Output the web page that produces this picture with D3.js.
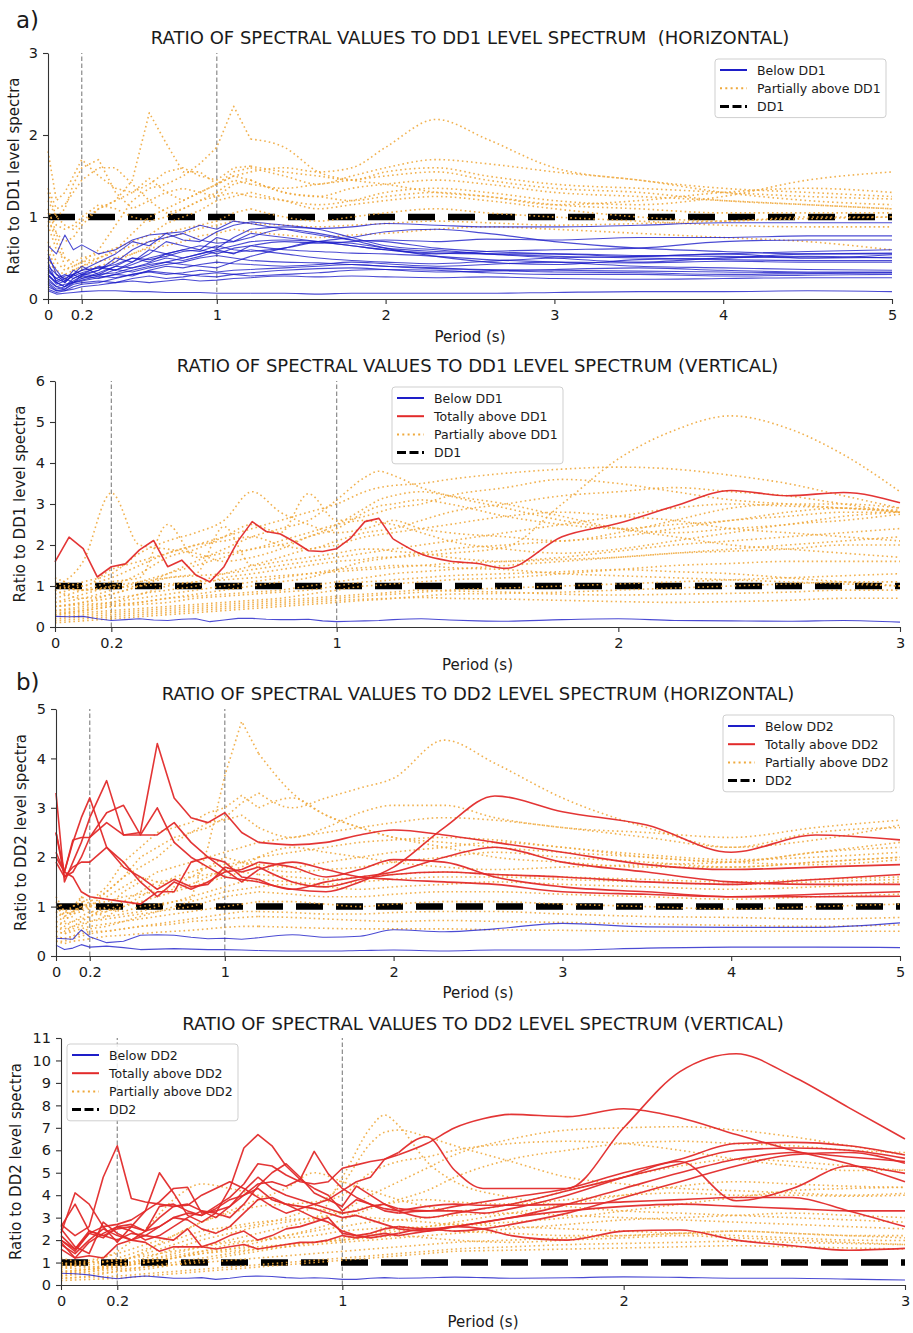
<!DOCTYPE html>
<html>
<head>
<meta charset="utf-8">
<script src="https://cdn.jsdelivr.net/npm/d3@7"></script>
<style>
  body { margin: 0; background: #fff; }
  svg { display: block; }
  text { font-family: "DejaVu Sans", sans-serif; fill: #1a1a1a; }
</style>
</head>
<body>
<svg id="chart" width="913" height="1333"></svg>
<script>
// ---------- period grids (s) ----------
const periodsLong = [0,0.05,0.1,0.15,0.2,0.3,0.4,0.5,0.6,0.7,0.8,0.9,1.0,1.1,1.2,1.4,1.6,1.8,2.0,2.3,2.6,3.0,3.5,4.0,4.5,5.0];
const periodsShort = [0,0.05,0.1,0.15,0.2,0.25,0.3,0.35,0.4,0.45,0.5,0.55,0.6,0.65,0.7,0.75,0.8,0.85,0.9,0.95,1.0,1.05,1.1,1.15,1.2,1.3,1.4,1.5,1.6,1.8,2.0,2.2,2.4,2.6,2.8,3.0];
const periodsShortCoarse = [0,0.1,0.2,0.3,0.4,0.5,0.6,0.7,0.8,0.9,1.0,1.1,1.15,1.2,1.3,1.4,1.6,1.8,2.0,2.2,2.4,2.6,2.8,3.0];

// ---------- tick labels ----------
const xTicksLong = [0,0.2,1,2,3,4,5];
const xTicksShort = [0,0.2,1,2,3];
const yTicksDD1Hor = [0,1,2,3];
const yTicksDD1Ver = [0,1,2,3,4,5,6];
const yTicksDD2Hor = [0,1,2,3,4,5];
const yTicksDD2Ver = [0,1,2,3,4,5,6,7,8,9,10,11];
const markerPeriods = [0.2,1];

// ---------- DD1, horizontal component (periodsLong) ----------
const dd1HorBelow = [
  [0.65,0.55,0.78,0.6,0.66, 0.55,0.6,0.72,0.78,0.8,0.82,0.9,0.85,0.95,0.92, 0.85,0.78,0.72,0.7, 0.62,0.58,0.55, 0.52,0.55,0.5,0.54],
  [0.55,0.3,0.2,0.3,0.35, 0.45,0.55,0.7,0.65,0.8,0.72,0.7,0.82,0.9,0.94, 0.9,0.85,0.75,0.65, 0.6,0.55,0.5, 0.45,0.5,0.52,0.5],
  [0.45,0.2,0.15,0.25,0.3, 0.35,0.5,0.45,0.6,0.55,0.6,0.65,0.62,0.75,0.85, 0.88,0.86,0.88,0.92, 0.9,0.88,0.88, 0.9,0.93,0.93,0.93],
  [0.35,0.25,0.2,0.3,0.4, 0.3,0.4,0.5,0.45,0.55,0.5,0.55,0.6,0.55,0.65, 0.7,0.68,0.7,0.72, 0.7,0.73,0.72, 0.75,0.75,0.77,0.77],
  [0.3,0.18,0.22,0.35,0.3, 0.4,0.35,0.45,0.55,0.7,0.65,0.6,0.75,0.7,0.8, 0.75,0.7,0.65,0.6, 0.55,0.58,0.6, 0.62,0.7,0.72,0.72],
  [0.4,0.3,0.25,0.2,0.28, 0.35,0.45,0.6,0.7,0.75,0.8,0.72,0.68,0.7,0.75, 0.85,0.8,0.72,0.62, 0.52,0.45,0.42, 0.48,0.5,0.55,0.56],
  [0.25,0.15,0.12,0.2,0.25, 0.3,0.32,0.38,0.42,0.45,0.5,0.55,0.6,0.65,0.7, 0.72,0.7,0.65,0.6, 0.56,0.55,0.55, 0.53,0.52,0.5,0.51],
  [0.2,0.12,0.15,0.22,0.28, 0.25,0.3,0.28,0.35,0.4,0.38,0.42,0.45,0.43,0.42, 0.4,0.42,0.45,0.43, 0.4,0.42,0.45, 0.44,0.46,0.45,0.45],
  [0.3,0.2,0.25,0.3,0.35, 0.38,0.42,0.5,0.48,0.52,0.58,0.6,0.55,0.62,0.65, 0.6,0.58,0.56,0.55, 0.52,0.48,0.45, 0.4,0.38,0.36,0.35],
  [0.18,0.1,0.1,0.15,0.18, 0.2,0.25,0.3,0.33,0.3,0.32,0.35,0.33,0.35,0.36, 0.38,0.4,0.42,0.4, 0.38,0.35,0.33, 0.32,0.3,0.31,0.32],
  [0.15,0.1,0.12,0.18,0.2, 0.22,0.2,0.25,0.28,0.25,0.27,0.3,0.32,0.3,0.28, 0.3,0.32,0.35,0.36, 0.35,0.32,0.3, 0.3,0.28,0.29,0.3],
  [0.12,0.08,0.1,0.12,0.15, 0.17,0.2,0.22,0.2,0.22,0.24,0.22,0.23,0.25,0.26, 0.28,0.27,0.28,0.27, 0.26,0.27,0.25, 0.24,0.25,0.26,0.26],
  [0.1,0.06,0.07,0.08,0.09, 0.1,0.1,0.09,0.09,0.08,0.08,0.08,0.07,0.07,0.07, 0.07,0.06,0.07,0.07, 0.07,0.07,0.08, 0.09,0.09,0.1,0.09],
  [0.5,0.35,0.22,0.28,0.32, 0.38,0.35,0.42,0.5,0.55,0.6,0.58,0.65,0.6,0.58, 0.62,0.7,0.75,0.82, 0.85,0.8,0.7, 0.62,0.58,0.55,0.55],
  [0.22,0.15,0.18,0.2,0.23, 0.28,0.26,0.3,0.34,0.32,0.3,0.28,0.27,0.3,0.32, 0.35,0.37,0.38,0.36, 0.33,0.34,0.36, 0.38,0.35,0.33,0.33],
  [0.38,0.22,0.28,0.3,0.25, 0.32,0.4,0.38,0.44,0.5,0.47,0.52,0.58,0.56,0.6, 0.55,0.5,0.47,0.45, 0.43,0.46,0.5, 0.52,0.55,0.58,0.6],
  [0.28,0.2,0.15,0.2,0.22, 0.26,0.3,0.35,0.4,0.45,0.42,0.4,0.38,0.45,0.52, 0.62,0.7,0.68,0.62, 0.58,0.55,0.52, 0.5,0.48,0.47,0.47],
  [0.33,0.25,0.3,0.25,0.3, 0.28,0.36,0.33,0.38,0.42,0.45,0.5,0.53,0.5,0.47, 0.45,0.44,0.42,0.4, 0.37,0.36,0.35, 0.34,0.33,0.32,0.32]
];
const dd1HorPartial = [
  [1.8,1.2,1.3,1.5,1.7, 1.5,1.35,1.3,1.4,1.55,1.6,1.5,1.45,1.6,1.62, 1.55,1.5,1.45,1.55, 1.6,1.5,1.4, 1.35,1.3,1.25,1.22],
  [1.3,1.0,0.9,0.85,0.95, 1.1,1.2,1.45,2.27,1.9,1.55,1.55,1.4,1.5,1.45, 1.3,1.25,1.35,1.4, 1.45,1.4,1.3, 1.25,1.2,1.15,1.1],
  [1.1,0.8,0.5,0.4,0.45, 0.6,0.9,1.2,1.35,1.4,1.5,1.65,1.85,2.35,1.95, 1.85,1.55,1.45,1.4, 1.3,1.25,1.15, 1.1,1.05,1.05,1.05],
  [1.0,0.7,0.4,0.35,0.4, 0.5,0.6,0.8,1.0,1.1,1.2,1.3,1.4,1.5,1.55, 1.6,1.55,1.6,1.85, 2.19,1.95,1.6, 1.45,1.35,1.3,1.25],
  [1.2,1.0,1.1,1.4,1.6, 1.7,1.3,1.1,1.2,1.05,1.1,1.2,1.25,1.3,1.25, 1.2,1.15,1.2,1.3, 1.35,1.3,1.2, 1.15,1.25,1.45,1.55],
  [1.35,1.1,1.15,1.3,1.45, 1.6,1.6,1.4,1.2,1.3,1.35,1.3,1.4,1.55,1.6, 1.5,1.4,1.5,1.6, 1.7,1.65,1.55, 1.45,1.3,1.2,1.15],
  [0.95,0.8,0.7,0.75,0.9, 1.1,1.2,1.3,1.47,1.3,1.2,1.3,1.25,1.4,1.45, 1.3,1.25,1.2,1.25, 1.3,1.25,1.15, 1.2,1.3,1.35,1.3],
  [0.9,0.6,0.5,0.45,0.5, 0.55,0.62,0.7,0.78,0.92,1.0,1.08,1.2,1.25,1.3, 1.2,1.1,1.15,1.2, 1.25,1.2,1.1, 1.0,0.95,1.0,1.0],
  [0.7,0.45,0.35,0.4,0.45, 0.5,0.57,0.65,0.7,0.8,0.86,0.9,0.95,1.05,1.1, 1.0,0.95,1.0,1.05, 1.1,1.05,1.0, 0.95,0.9,0.88,0.88],
  [0.6,0.35,0.3,0.35,0.4, 0.46,0.5,0.55,0.62,0.65,0.7,0.77,0.8,0.85,0.82, 0.78,0.75,0.78,0.8, 0.85,0.88,0.85, 0.8,0.75,0.7,0.6],
  [1.05,0.9,0.85,0.9,1.0, 1.15,1.1,1.0,0.95,1.0,1.1,1.2,1.3,1.45,1.4, 1.35,1.4,1.45,1.5, 1.55,1.45,1.35, 1.3,1.2,1.15,1.1],
  [0.5,0.3,0.25,0.3,0.35, 0.4,0.46,0.55,0.64,0.75,0.8,0.86,0.9,0.95,0.92, 0.9,0.88,0.9,0.92, 0.95,0.93,0.9, 0.92,0.95,0.98,1.0]
];

// ---------- DD1, vertical component ----------
const dd1VerBelow = [
  [0.26,0.25,0.26,0.2,0.16, 0.18,0.2,0.17,0.16,0.19, 0.2,0.13,0.17,0.21,0.21, 0.19,0.18,0.18,0.19,0.15, 0.13,0.14,0.15,0.16,0.18, 0.2,0.17,0.15,0.14,0.18,0.2,0.16,0.15,0.14,0.16,0.12]
];
const dd1VerTotal = [
  [1.59,2.19,1.91,1.22,1.47, 1.54,1.88,2.11,1.47,1.63, 1.27,1.1,1.47,2.1,2.57, 2.33,2.27,2.08,1.86,1.84, 1.91,2.17,2.57,2.65,2.15, 1.78,1.61,1.55,1.43,2.2,2.53,2.95,3.33,3.2,3.28,3.03]
];
const dd1VerPartial = [  // periodsShortCoarse
  [1.0,1.6,3.27,2.0,1.9,1.8,1.6,1.7,1.9,2.2,2.4, 2.8,2.95,3.0,3.1,3.0, 2.7,2.5,2.4,2.5,2.6,2.8,2.9,2.8],
  [0.9,1.1,1.3,1.8,2.1,2.3,2.6,3.3,2.8,2.5,2.3, 2.4,2.5,2.6,2.4,2.3, 2.2,2.1,2.3,2.6,2.9,3.0,3.0,2.9],
  [0.6,0.8,1.0,1.3,1.7,1.9,2.2,2.5,2.3,3.25,2.6, 2.7,2.8,2.9,3.0,3.2, 3.4,3.6,3.5,3.3,3.1,3.0,2.9,2.85],
  [0.5,0.6,0.8,1.0,1.3,1.6,1.9,2.2,2.4,2.6,3.1, 3.65,3.8,3.7,3.4,3.2, 2.9,2.6,2.4,2.3,2.4,2.5,2.7,2.8],
  [0.4,0.5,0.6,0.8,0.9,1.0,1.2,1.3,1.4,1.5,1.6, 1.65,1.7,1.7,1.75,1.8, 1.95,3.0,4.1,4.8,5.15,4.85,4.2,3.3],
  [0.8,1.0,1.2,1.5,1.8,2.0,2.2,2.4,2.6,2.8,3.0, 3.3,3.4,3.45,3.5,3.6, 3.75,3.85,3.9,3.85,3.7,3.5,3.2,2.9],
  [1.2,1.0,1.4,1.6,1.8,2.0,2.1,2.2,2.0,1.9,2.1, 2.3,2.35,2.4,2.6,2.8, 3.0,3.2,3.3,3.4,3.3,3.2,3.0,2.8],
  [0.7,0.9,1.1,1.2,2.5,1.7,1.8,1.9,2.1,2.3,2.5, 2.6,2.55,2.5,2.3,2.1, 1.9,1.8,1.9,2.1,2.3,2.5,2.6,2.75],
  [0.5,0.6,0.7,0.8,1.0,1.1,1.3,1.5,1.7,1.9,2.0, 2.2,2.25,2.3,2.4,2.5, 2.7,2.8,2.7,2.6,2.4,2.3,2.2,2.1],
  [0.3,0.4,0.5,0.6,0.7,0.8,0.9,1.0,1.1,1.2,1.4, 1.6,1.65,1.7,1.8,1.9, 2.0,2.1,2.2,2.4,2.6,2.7,2.8,2.8],
  [0.9,0.7,0.8,1.0,1.2,1.3,2.45,1.5,1.6,1.7,1.8, 1.9,1.9,1.85,1.8,1.7, 1.6,1.65,1.7,1.8,1.9,2.0,2.1,2.2],
  [0.4,0.45,0.55,0.6,0.7,0.75,0.8,0.85,0.9,1.0,1.1, 1.2,1.25,1.3,1.35,1.4, 1.5,1.6,1.7,1.8,1.85,1.9,2.0,2.0],
  [0.3,0.35,0.4,0.45,0.5,0.55,0.6,0.65,0.7,0.8,0.9, 1.0,1.02,1.05,1.1,1.15, 1.2,1.3,1.4,1.5,1.55,1.6,1.6,1.6],
  [0.2,0.25,0.3,0.35,0.4,0.45,0.5,0.55,0.6,0.65,0.7, 0.75,0.78,0.8,0.85,0.9, 0.95,1.0,1.05,1.1,1.15,1.2,1.25,1.3],
  [0.25,0.3,0.35,0.4,0.45,0.5,0.55,0.6,0.65,0.7,0.75, 0.8,0.82,0.85,0.9,0.88, 0.85,0.8,0.78,0.8,0.82,0.85,0.9,0.9],
  [0.15,0.2,0.25,0.3,0.35,0.4,0.45,0.5,0.55,0.6,0.65, 0.68,0.69,0.7,0.72,0.7, 0.68,0.65,0.62,0.6,0.62,0.65,0.7,0.7],
  [1.0,0.9,1.0,1.1,1.2,1.25,1.3,1.4,1.5,1.6,1.7, 1.8,1.85,1.9,2.0,2.1, 2.3,2.5,2.7,2.9,3.0,2.95,2.9,2.8],
  [0.6,0.7,0.9,1.1,1.3,1.5,1.7,1.9,2.0,2.2,2.5, 2.9,3.1,3.2,3.3,3.2, 3.0,2.7,2.4,2.2,2.0,1.9,1.8,1.7],
  [0.5,0.55,0.6,0.7,0.8,0.9,1.0,1.1,1.2,1.3,1.4, 1.45,1.47,1.5,1.5,1.45, 1.4,1.3,1.25,1.2,1.15,1.1,1.05,1.0],
  [1.1,0.9,0.95,1.0,1.05,1.1,1.15,1.2,1.25,1.3,1.35, 1.4,1.42,1.45,1.5,1.55, 1.6,1.7,1.85,2.0,2.1,2.2,2.3,2.4],
  [0.35,0.4,0.5,0.55,0.6,0.7,0.75,0.8,0.85,0.9,1.0, 1.1,1.12,1.15,1.2,1.25, 1.3,1.35,1.4,1.35,1.3,1.2,1.1,1.0],
  [0.1,0.15,0.2,0.25,0.3,0.35,0.4,0.45,0.5,0.55,0.6, 0.65,0.67,0.7,0.75,0.8, 0.82,0.85,0.9,0.95,1.0,1.05,1.1,1.1]
];

// ---------- DD2, horizontal component (periodsLong) ----------
const dd2HorBelow = [
  [0.36,0.35,0.34,0.53,0.39, 0.27,0.3,0.42,0.43,0.42,0.38,0.35,0.36,0.34,0.37, 0.43,0.38,0.4,0.53, 0.49,0.55,0.66, 0.59,0.58,0.58,0.67],
  [0.22,0.13,0.16,0.23,0.18, 0.2,0.17,0.13,0.14,0.15,0.14,0.13,0.13,0.12,0.11, 0.1,0.1,0.11,0.12, 0.1,0.12,0.12, 0.16,0.18,0.18,0.17]
];
const dd2HorTotal = [
  [2.5,1.6,1.7,2.0,2.4, 2.7,2.45,2.5,4.3,3.2,2.8,2.7,2.9,2.5,2.3, 2.25,2.3,2.45,2.55, 2.45,2.3,2.1, 1.85,1.75,1.8,1.85],
  [3.3,1.5,1.9,2.3,2.8, 3.55,2.45,2.45,3.0,2.3,2.0,1.8,1.6,1.55,1.5, 1.35,1.3,1.5,1.8, 2.6,3.24,2.92, 2.65,2.1,2.45,2.35],
  [2.0,1.7,2.3,2.8,3.2, 2.2,1.8,1.6,1.35,1.55,1.4,1.45,1.8,1.7,1.8, 1.5,1.4,1.55,1.65, 1.7,1.65,1.6, 1.5,1.45,1.55,1.65],
  [2.1,1.7,2.35,2.4,2.4, 2.9,3.05,2.45,2.45,2.7,2.3,2.0,1.75,1.5,1.75, 1.9,1.75,1.6,1.55, 1.5,1.45,1.3, 1.25,1.2,1.25,1.3],
  [2.5,1.7,1.6,1.3,1.2, 1.15,1.1,1.05,1.3,1.3,1.9,2.0,1.9,1.6,1.55, 1.35,1.5,1.6,1.7, 2.0,2.2,1.9, 1.7,1.5,1.45,1.45],
  [1.9,1.6,1.8,1.9,1.9, 2.2,1.9,1.5,1.2,1.5,1.35,1.5,1.7,1.75,1.9, 1.8,1.6,1.75,1.95, 1.9,1.6,1.4, 1.3,1.2,1.2,1.21]
];
const dd2HorPartial = [
  [0.8,0.7,0.9,1.0,1.0, 0.95,0.9,1.0,1.05,1.1,1.15,2.2,3.65,4.75,4.1, 3.3,2.85,2.6,2.4, 2.3,2.2,2.1, 2.0,1.9,2.1,2.2],
  [1.2,0.9,1.0,1.1,1.0, 1.3,1.6,2.0,2.2,2.4,2.5,2.6,2.8,3.1,3.3, 3.0,3.2,3.4,3.6, 4.37,3.9,3.2, 2.6,2.2,2.5,2.6],
  [0.9,0.8,1.0,1.2,1.1, 1.4,1.9,2.2,2.5,2.6,2.7,2.9,3.0,3.25,3.0, 3.2,2.85,2.6,2.4, 2.2,2.0,1.9, 1.8,1.8,1.9,2.0],
  [1.0,0.85,0.9,1.0,1.1, 1.3,1.6,1.8,2.0,2.3,2.5,2.7,2.75,2.85,2.6, 2.4,2.6,2.9,3.05, 3.05,2.8,2.6, 2.5,2.4,2.6,2.75],
  [0.6,0.5,0.6,0.7,0.8, 1.0,1.3,1.5,1.7,1.8,1.9,2.0,2.1,2.2,2.3, 2.4,2.5,2.6,2.7, 2.8,2.75,2.6, 2.4,2.2,2.35,2.65],
  [0.5,0.45,0.55,0.6,0.7, 0.8,1.0,1.2,1.4,1.6,1.7,1.8,1.85,1.9,1.85, 1.8,1.9,2.0,2.1, 2.2,2.3,2.2, 2.0,1.9,1.85,1.95],
  [1.1,0.9,0.85,0.9,1.0, 1.2,1.4,1.6,1.5,1.4,1.6,1.8,2.0,1.9,1.8, 1.7,1.75,1.8,1.9, 2.0,2.1,2.0, 1.9,1.8,1.9,2.0],
  [0.7,0.6,0.7,0.8,0.9, 0.9,1.0,1.1,1.2,1.3,1.4,1.5,1.6,1.7,1.65, 1.6,1.55,1.6,1.65, 1.7,1.65,1.6, 1.55,1.5,1.55,1.6],
  [0.4,0.35,0.4,0.5,0.55, 0.6,0.7,0.8,0.9,1.0,1.1,1.2,1.3,1.35,1.4, 1.45,1.4,1.35,1.4, 1.45,1.5,1.45, 1.4,1.35,1.4,1.5],
  [0.6,0.55,0.6,0.65,0.7, 0.75,0.8,0.85,0.9,0.95,1.0,1.1,1.2,1.25,1.3, 1.25,1.2,1.2,1.25, 1.3,1.3,1.25, 1.2,1.15,1.2,1.25],
  [0.5,0.45,0.5,0.55,0.6, 0.65,0.7,0.75,0.8,0.85,0.9,0.95,1.0,1.05,1.1, 1.1,1.05,1.0,1.05, 1.1,1.1,1.05, 1.0,0.95,1.0,1.05],
  [0.3,0.3,0.35,0.4,0.45, 0.5,0.55,0.6,0.65,0.7,0.75,0.8,0.85,0.9,0.9, 0.88,0.85,0.85,0.88, 0.9,0.9,0.85, 0.8,0.78,0.75,0.78],
  [0.4,0.35,0.4,0.45,0.5, 0.5,0.55,0.6,0.62,0.65,0.7,0.72,0.75,0.78,0.8, 0.78,0.75,0.72,0.7, 0.72,0.7,0.68, 0.65,0.62,0.6,0.63],
  [0.9,0.75,0.8,1.2,0.9, 0.8,0.85,0.9,1.0,1.1,1.2,1.3,1.4,1.5,1.55, 1.5,1.45,1.5,1.55, 1.6,1.6,1.55, 1.5,1.45,1.5,1.55],
  [0.3,0.25,0.3,0.32,0.35, 0.4,0.42,0.45,0.48,0.5,0.52,0.55,0.58,0.6,0.6, 0.58,0.56,0.55,0.55, 0.55,0.53,0.52, 0.5,0.5,0.5,0.5],
  [0.7,0.65,0.7,0.75,0.8, 0.9,1.1,1.3,1.5,1.55,1.6,1.65,1.7,1.8,2.0, 2.2,2.1,2.0,1.9, 1.8,1.75,1.8, 1.85,1.9,2.1,2.3],
  [1.0,0.8,0.9,0.95,1.05, 1.1,1.2,1.25,1.3,1.35,1.45,1.6,1.75,1.9,2.0, 2.1,2.2,2.3,2.35, 2.4,2.35,2.2, 2.05,1.95,2.0,2.1]
];

// ---------- DD2, vertical component ----------
const dd2VerBelow = [
  [0.52,0.5,0.45,0.35,0.28, 0.35,0.4,0.35,0.3,0.3, 0.33,0.25,0.3,0.38,0.4, 0.38,0.33,0.3,0.32,0.3, 0.25,0.25,0.3,0.33,0.3, 0.32,0.35,0.33,0.3,0.32,0.36,0.34,0.3,0.3,0.26,0.22]
];
const dd2VerTotal = [
  [2.7,2.2,2.6,4.8,6.2, 3.85,3.7,3.6,3.5,3.55, 4.0,4.3,4.6,4.3,3.9, 3.5,3.2,3.4,3.6,3.4, 3.2,3.3,3.5,3.6,3.4, 3.3,3.5,3.7,3.9,4.3,5.0,5.6,6.3,6.35,6.2,5.79],
  [2.3,4.1,3.6,2.6,1.9, 2.6,3.3,5.0,4.1,3.1, 2.8,3.2,4.3,6.1,6.7, 6.2,5.3,4.7,4.3,4.0, 3.3,3.8,3.6,3.3,3.2, 3.3,3.3,3.2,3.4,4.0,4.8,5.5,3.75,4.3,5.3,4.97],
  [2.0,1.5,2.3,2.6,2.7, 2.9,3.3,3.7,4.3,4.35, 3.2,3.3,3.5,4.0,4.5, 4.6,4.4,4.7,5.95,4.95, 4.3,3.9,3.6,3.4,3.3, 3.5,3.6,3.55,3.55,3.6,3.7,3.8,3.9,3.9,3.3,2.6],
  [1.6,1.2,1.9,2.3,2.6, 2.7,2.4,2.6,3.0,3.2, 3.1,3.5,3.9,4.5,5.4, 5.3,4.9,4.6,4.5,4.6, 5.2,5.35,5.5,5.6,5.8, 6.3,7.0,7.4,7.6,7.5,7.85,7.45,6.7,6.0,5.4,4.6],
  [2.5,1.7,1.4,2.8,2.3, 2.0,2.4,3.0,3.5,3.6, 3.3,3.0,3.5,4.2,4.8, 4.3,4.0,3.8,3.6,3.8, 4.2,4.6,4.8,5.6,5.9, 6.6,5.1,4.3,4.3,4.3,7.0,9.5,10.3,9.3,7.9,6.5],
  [2.0,1.6,2.3,2.1,2.6, 2.4,2.0,2.2,2.6,3.0, 3.3,3.2,3.0,3.6,4.4, 5.0,5.4,4.8,4.1,3.8, 3.5,4.4,4.0,3.6,3.3, 3.0,3.2,3.4,3.6,4.2,4.8,5.4,6.0,6.1,6.0,5.64],
  [1.9,1.2,1.3,1.2,1.8, 2.0,1.9,1.5,1.7,1.7, 1.7,1.6,1.7,1.8,1.6, 1.7,1.8,1.9,1.9,2.0, 2.2,2.1,2.2,2.3,2.2, 2.4,2.6,2.5,2.2,2.0,2.4,2.45,2.0,1.75,1.55,1.63],
  [2.2,1.6,2.4,2.2,2.0, 2.3,2.2,2.1,2.0,2.5, 1.7,1.9,2.2,2.4,2.0, 2.2,2.5,2.6,2.8,3.0, 2.3,2.2,2.3,2.5,2.6, 2.5,2.6,2.8,3.0,3.3,3.5,3.6,3.5,3.4,3.3,3.3],
  [2.6,3.6,2.4,2.2,2.5, 2.6,2.4,3.5,3.6,3.3, 3.1,3.4,3.8,4.0,4.3, 3.8,3.6,3.5,3.4,3.2, 3.0,3.1,2.9,2.7,2.5, 2.4,2.6,2.8,3.0,3.6,4.3,5.0,5.6,5.9,5.7,5.5],
  [1.8,1.4,2.0,2.5,2.2, 2.0,2.2,2.6,3.0,2.9, 2.5,2.3,2.6,3.2,3.8, 3.9,3.6,3.3,3.0,2.8, 2.4,2.2,2.1,2.2,2.3, 2.5,2.4,2.5,2.7,3.2,3.9,4.6,5.3,5.8,5.9,5.42]
];
const dd2VerPartial = [  // periodsShortCoarse
  [1.0,0.9,1.2,1.6,2.0,2.4,2.6,2.8,2.9,3.0,4.8, 7.0,7.57,7.1,5.5,4.6, 3.9,3.5,3.3,3.2,3.1,3.0,2.9,2.8],
  [0.8,1.0,1.1,1.4,1.8,2.2,2.5,2.7,3.0,3.5,4.5, 6.3,6.8,6.9,6.6,6.2, 5.5,4.8,4.5,4.3,4.2,4.1,4.0,4.08],
  [0.6,0.7,0.9,1.1,1.4,1.7,2.0,2.3,2.6,2.9,3.3, 4.0,4.3,4.6,5.2,5.8, 6.5,6.9,7.0,7.05,6.9,6.6,6.2,5.8],
  [0.9,1.1,1.4,1.8,2.2,2.8,3.3,3.8,4.3,5.0,4.6, 4.2,4.0,3.8,3.5,3.3, 3.6,4.2,4.8,5.3,5.6,5.5,5.3,5.1],
  [0.7,1.0,1.5,2.5,3.8,4.5,4.3,4.0,3.6,3.4,3.2, 3.0,2.95,2.9,2.8,2.7, 2.8,3.0,3.3,3.6,3.9,4.2,4.3,4.35],
  [0.5,0.7,0.9,1.2,1.6,2.0,2.3,2.6,2.8,3.0,3.2, 3.5,3.6,3.7,3.8,3.7, 3.6,3.8,4.0,4.1,4.0,4.0,3.95,4.0],
  [0.4,0.6,0.8,1.0,1.2,1.5,1.8,2.0,2.2,2.4,2.6, 2.8,2.85,2.9,3.0,3.1, 3.2,3.1,3.0,2.9,2.8,2.7,2.6,2.5],
  [1.2,1.0,1.1,1.3,1.5,1.7,1.9,2.0,2.1,2.2,2.4, 2.5,2.55,2.6,2.5,2.4, 2.3,2.2,2.2,2.3,2.4,2.3,2.2,2.1],
  [0.3,0.4,0.6,0.8,1.0,1.2,1.4,1.6,1.8,1.9,2.0, 2.1,2.15,2.2,2.1,2.0, 1.9,2.0,2.1,2.2,2.1,2.0,1.9,1.8],
  [0.8,0.7,0.9,1.1,1.3,1.5,1.6,1.7,1.8,1.9,2.0, 2.2,2.3,2.4,2.6,2.8, 3.2,3.6,4.0,4.4,4.6,4.5,4.4,4.35],
  [0.5,0.6,0.7,0.8,0.9,1.0,1.1,1.2,1.3,1.4,1.5, 1.6,1.65,1.7,1.8,1.9, 2.0,2.1,2.2,2.3,2.4,2.3,2.2,2.2],
  [0.3,0.35,0.4,0.5,0.6,0.7,0.8,0.9,1.0,1.1,1.2, 1.3,1.35,1.4,1.5,1.6, 1.7,1.8,1.85,1.9,1.95,1.9,1.85,1.8],
  [0.2,0.25,0.3,0.4,0.5,0.6,0.7,0.8,0.9,1.0,1.1, 1.2,1.25,1.3,1.4,1.5, 1.55,1.6,1.65,1.7,1.75,1.7,1.65,1.6],
  [1.0,0.8,0.9,1.0,1.2,1.4,1.6,1.9,2.2,2.5,2.9, 3.4,3.6,3.8,4.2,4.8, 5.6,6.0,6.3,6.4,6.3,6.2,6.0,5.9],
  [0.6,0.7,0.8,1.0,1.2,1.4,1.5,1.6,1.7,1.8,1.9, 2.0,2.05,2.1,2.2,2.3, 2.5,2.7,2.9,3.0,3.1,3.2,3.1,3.0],
  [0.4,0.5,0.6,0.7,0.9,1.1,1.3,1.5,1.7,1.9,2.1, 2.3,2.4,2.5,2.6,2.7, 2.6,2.5,2.4,2.3,2.2,2.1,2.0,1.98],
  [0.9,0.8,1.0,1.5,2.2,2.8,3.2,3.5,3.6,3.7,4.0, 5.0,5.3,5.5,5.7,6.0, 6.3,6.4,6.3,6.0,5.6,5.3,5.1,5.12]
];

// ---------- legend labels ----------
const legendDD1Hor = ["Below DD1", "Partially above DD1", "DD1"];
const legendDD1Ver = ["Below DD1", "Totally above DD1", "Partially above DD1", "DD1"];
const legendDD2 = ["Below DD2", "Totally above DD2", "Partially above DD2", "DD2"];

// ---------- styling ----------
const STYLE = {
  below:   { stroke: "#1e1ec8", width: 1.1, opacity: 0.8, dash: null },
  total:   { stroke: "#e22a2a", width: 1.6, opacity: 0.95, dash: null },
  partial: { stroke: "#efa93c", width: 1.6, opacity: 0.9, dash: "1.6,3" }
};
// short periods are joined by straight segments, the longer-period tail is smoothed
const SMOOTH_FROM = 1.2;

const svg = d3.select("#chart");

function drawPanel(p) {
  const g = svg.append("g");
  const x = d3.scaleLinear().domain([0, p.xMax]).range([p.left, p.right]);
  const y = d3.scaleLinear().domain([0, p.yMax]).range([p.bottom, p.top]);

  // period markers at 0.2 s and 1 s
  g.selectAll("line.marker").data(markerPeriods).join("line")
    .attr("x1", d => x(d)).attr("x2", d => x(d))
    .attr("y1", y(0)).attr("y2", y(p.yMax))
    .attr("stroke", "#8a8a8a").attr("stroke-width", 1.2)
    .attr("stroke-dasharray", "4.5,2.5");

  // design-level reference (ratio = 1)
  g.append("line")
    .attr("x1", x(0)).attr("x2", x(p.xMax))
    .attr("y1", y(1)).attr("y2", y(1))
    .attr("stroke", "#000").attr("stroke-width", 6.5)
    .attr("stroke-dasharray", "27,13");

  const plotGroup = (series, periods, st, jagged) => {
    const gg = g.append("g");
    const apply = sel => sel.attr("fill", "none")
      .attr("stroke", st.stroke)
      .attr("stroke-width", st.width)
      .attr("stroke-opacity", st.opacity)
      .attr("stroke-dasharray", st.dash)
      .attr("stroke-linejoin", "round");
    series.forEach(vals => {
      const pts = vals.map((v, i) => [periods[i], v]);
      if (!jagged) {
        gg.append("path").call(apply)
          .attr("d", d3.line().x(d => x(d[0])).y(d => y(d[1])).curve(d3.curveMonotoneX)(pts));
        return;
      }
      const head = pts.filter(d => d[0] <= SMOOTH_FROM);
      const tail = pts.filter(d => d[0] >= SMOOTH_FROM);
      gg.append("path").call(apply)
        .attr("d", d3.line().x(d => x(d[0])).y(d => y(d[1])).curve(d3.curveLinear)(head));
      gg.append("path").call(apply)
        .attr("d", d3.line().x(d => x(d[0])).y(d => y(d[1])).curve(d3.curveMonotoneX)(tail));
    });
  };

  plotGroup(p.partial, p.partialPeriods, STYLE.partial, p.partialPeriods === p.periods);
  plotGroup(p.below, p.periods, STYLE.below, true);
  if (p.total) plotGroup(p.total, p.periods, STYLE.total, true);

  // axes
  const xAxis = d3.axisBottom(x).tickValues(p.xTicks)
    .tickFormat(d => String(d)).tickSize(5).tickSizeOuter(0).tickPadding(6);
  const yAxis = d3.axisLeft(y).tickValues(p.yTicks)
    .tickFormat(d => String(d)).tickSize(5).tickSizeOuter(0).tickPadding(5);

  const gx = g.append("g").attr("transform", `translate(0,${p.bottom})`).call(xAxis);
  const gy = g.append("g").attr("transform", `translate(${p.left},0)`).call(yAxis);
  [gx, gy].forEach(a => {
    a.select(".domain").attr("stroke", "#333").attr("stroke-width", 1.1);
    a.selectAll(".tick line").attr("stroke", "#333").attr("stroke-width", 1.1);
    a.selectAll(".tick text").attr("font-family", "DejaVu Sans").attr("font-size", 14.5).attr("fill", "#1a1a1a");
  });

  // title
  g.append("text")
    .attr("x", (p.left + p.right) / 2).attr("y", p.titleY)
    .attr("text-anchor", "middle").attr("font-size", 18)
    .style("white-space", "pre")
    .text(p.title);

  // axis labels
  g.append("text")
    .attr("x", (p.left + p.right) / 2).attr("y", p.xLabelY)
    .attr("text-anchor", "middle").attr("font-size", 15)
    .text("Period (s)");
  g.append("text")
    .attr("transform", `translate(${p.yLabelX},${(p.top + p.bottom) / 2}) rotate(-90)`)
    .attr("text-anchor", "middle").attr("font-size", 15)
    .text(p.yLabel);

  // legend
  const lg = g.append("g");
  const rowH = 18.2;
  const n = p.legend.length;
  lg.append("rect")
    .attr("x", p.legendX).attr("y", p.legendY)
    .attr("width", p.legendW).attr("height", n * rowH + 4)
    .attr("rx", 3).attr("fill", "#fff").attr("fill-opacity", 0.85)
    .attr("stroke", "#cfcfcf").attr("stroke-width", 1);
  p.legend.forEach((label, i) => {
    const cy = p.legendY + 11 + i * rowH;
    const kind = p.legendKinds[i];
    const hl = lg.append("line")
      .attr("x1", p.legendX + 5).attr("x2", p.legendX + 32)
      .attr("y1", cy).attr("y2", cy);
    if (kind === "dd") {
      hl.attr("stroke", "#000").attr("stroke-width", 3).attr("stroke-dasharray", "9,3.5");
    } else if (kind === "partial") {
      hl.attr("stroke", STYLE.partial.stroke).attr("stroke-width", 2).attr("stroke-dasharray", "2,3.3");
    } else {
      hl.attr("stroke", kind === "below" ? "#1e1ec8" : "#e22a2a").attr("stroke-width", 2);
    }
    lg.append("text")
      .attr("x", p.legendX + 42).attr("y", cy + 4.5)
      .attr("font-size", 12.5).text(label);
  });
}

drawPanel({
  left: 48, right: 892, top: 53, bottom: 299, xMax: 5, yMax: 3,
  xTicks: xTicksLong, yTicks: yTicksDD1Hor,
  periods: periodsLong, partialPeriods: periodsLong,
  below: dd1HorBelow, total: null, partial: dd1HorPartial,
  title: "RATIO OF SPECTRAL VALUES TO DD1 LEVEL SPECTRUM  (HORIZONTAL)",
  titleY: 43.5, xLabelY: 341.5, yLabelX: 18.5, yLabel: "Ratio to DD1 level spectra",
  legend: legendDD1Hor, legendKinds: ["below", "partial", "dd"],
  legendX: 715, legendY: 59, legendW: 171
});

drawPanel({
  left: 55, right: 900, top: 381, bottom: 627, xMax: 3, yMax: 6,
  xTicks: xTicksShort, yTicks: yTicksDD1Ver,
  periods: periodsShort, partialPeriods: periodsShortCoarse,
  below: dd1VerBelow, total: dd1VerTotal, partial: dd1VerPartial,
  title: "RATIO OF SPECTRAL VALUES TO DD1 LEVEL SPECTRUM (VERTICAL)",
  titleY: 371.5, xLabelY: 669.5, yLabelX: 25, yLabel: "Ratio to DD1 level spectra",
  legend: legendDD1Ver, legendKinds: ["below", "total", "partial", "dd"],
  legendX: 392, legendY: 387, legendW: 171
});

drawPanel({
  left: 56, right: 900, top: 709, bottom: 956, xMax: 5, yMax: 5,
  xTicks: xTicksLong, yTicks: yTicksDD2Hor,
  periods: periodsLong, partialPeriods: periodsLong,
  below: dd2HorBelow, total: dd2HorTotal, partial: dd2HorPartial,
  title: "RATIO OF SPECTRAL VALUES TO DD2 LEVEL SPECTRUM (HORIZONTAL)",
  titleY: 699.5, xLabelY: 997.5, yLabelX: 26, yLabel: "Ratio to DD2 level spectra",
  legend: legendDD2, legendKinds: ["below", "total", "partial", "dd"],
  legendX: 723, legendY: 715, legendW: 171
});

drawPanel({
  left: 61, right: 905, top: 1038, bottom: 1285, xMax: 3, yMax: 11,
  xTicks: xTicksShort, yTicks: yTicksDD2Ver,
  periods: periodsShort, partialPeriods: periodsShortCoarse,
  below: dd2VerBelow, total: dd2VerTotal, partial: dd2VerPartial,
  title: "RATIO OF SPECTRAL VALUES TO DD2 LEVEL SPECTRUM (VERTICAL)",
  titleY: 1029.5, xLabelY: 1326.5, yLabelX: 21, yLabel: "Ratio to DD2 level spectra",
  legend: legendDD2, legendKinds: ["below", "total", "partial", "dd"],
  legendX: 67, legendY: 1044, legendW: 171
});

// panel letters
svg.append("text").attr("x", 16).attr("y", 28).attr("font-size", 23).text("a)");
svg.append("text").attr("x", 16).attr("y", 690).attr("font-size", 23).text("b)");
</script>
</body>
</html>
